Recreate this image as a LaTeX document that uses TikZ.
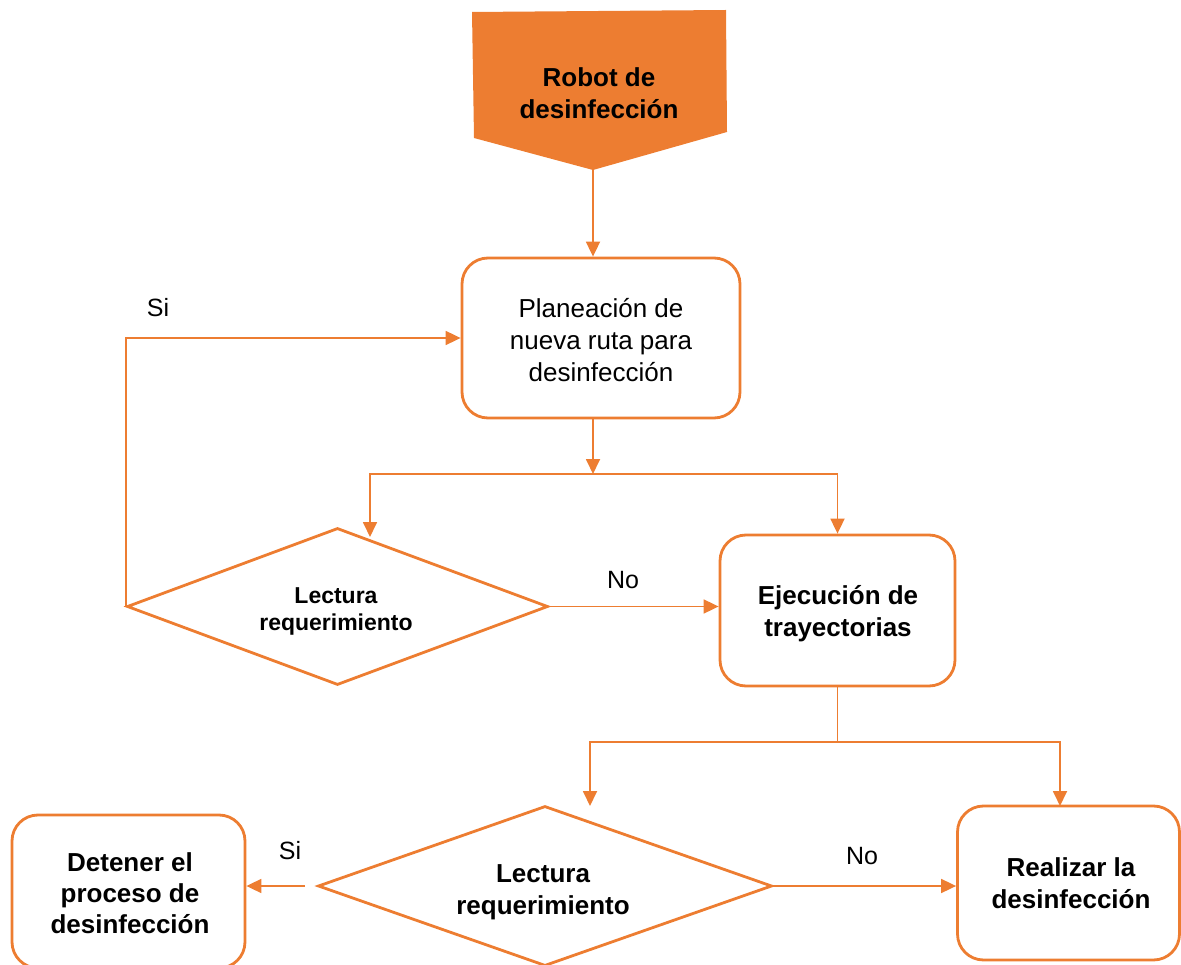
\documentclass[tikz,border=0pt]{standalone}
\usepackage{fontspec}
\setmainfont{Liberation Sans}
\usetikzlibrary{shapes.geometric,arrows.meta}
\definecolor{orng}{HTML}{ED7D31}
\tikzset{
  box/.style={draw=orng, line width=2.8pt, rounded corners=26pt, fill=white, align=center, inner sep=0pt},
  dec/.style={draw=orng, line width=2.8pt, diamond, aspect=2.7, inner sep=0pt},
  arr/.style={draw=orng, line width=1.8pt, -{Triangle[length=15pt,width=14pt]}},
  ln/.style={draw=orng, line width=1.8pt},
  lbl/.style={font=\fontsize{25}{30}\selectfont},
  big/.style={font=\fontsize{26}{32}\selectfont, align=center},
  bigb/.style={font=\fontsize{26}{32}\selectfont\bfseries, align=center},
}
\begin{document}
\begin{tikzpicture}[x=1pt,y=-1pt]
\useasboundingbox (0,0) rectangle (1181,965);
% top off-page shape
\fill[orng] (472,12) -- (726,10) -- (727,132) -- (593,170) -- (474,138) -- cycle;
\node[bigb] (robot) at (599,93) {Robot de\\desinfección};
\coordinate (tip) at (593,170);
% boxes
\node[box, minimum width=278pt, minimum height=160pt] (plan) at (601,338) {};
\node[big] (plantxt) at (601,340) {Planeación de\\nueva ruta para\\desinfección};
\node[box, minimum width=235pt, minimum height=151pt] (exe) at (837.5,610.5) {};
\node[bigb] (exetxt) at (838,614) {Ejecución de\\trayectorias};
\node[box, minimum width=233pt, minimum height=153pt] (det) at (128.5,891.5) {};
\node[bigb] (dettxt) at (130,893) {Detener el\\[-1pt]proceso de\\[-1pt]desinfección};
\node[box, minimum width=222pt, minimum height=154pt] (real) at (1068.5,883) {};
\node[bigb] (realtxt) at (1071,883) {Realizar la\\desinfección};
% diamonds
\node[dec, minimum width=421pt, minimum height=157pt] (d1) at (337.5,606.5) {};
\node[font=\fontsize{23}{27}\selectfont\bfseries, align=center] (d1txt) at (336,611) {Lectura\\requerimiento};
\node[dec, minimum width=454pt, minimum height=160pt] (d2) at (545,886) {};
\node[bigb] (d2txt) at (543,892) {Lectura\\requerimiento};
% junctions
\coordinate (j1) at (593,474);
\coordinate (d1in) at (370,537);
\coordinate (j2) at (837.5,742);
\coordinate (d2in) at (590,806);
\coordinate (realin) at (1060,806);
\coordinate (si2s) at (305,886);
% connectors
\draw[arr] (tip) -- (tip |- plan.north);
\draw[arr] (tip |- plan.south) -- (j1);
\draw[arr] (j1) -| (d1in);
\draw[arr] (j1) -| (exe.north);
\draw[arr] (d1.east) -- (d1.east -| exe.west);
\draw[arr] (d1.west) |- (plan.west);
\draw[ln] (exe.south) -- (j2);
\draw[arr] (j2) -| (d2in);
\draw[arr] (j2) -| (realin);
\draw[arr] (si2s) -- (si2s -| det.east);
\draw[arr] (d2.east) -- (d2.east -| real.west);
% labels
\node[lbl] (si1) at (158,308) {Si};
\node[lbl] (no1) at (623,580) {No};
\node[lbl] (si2) at (290,851) {Si};
\node[lbl] (no2) at (862,856) {No};
\end{tikzpicture}
\end{document}
